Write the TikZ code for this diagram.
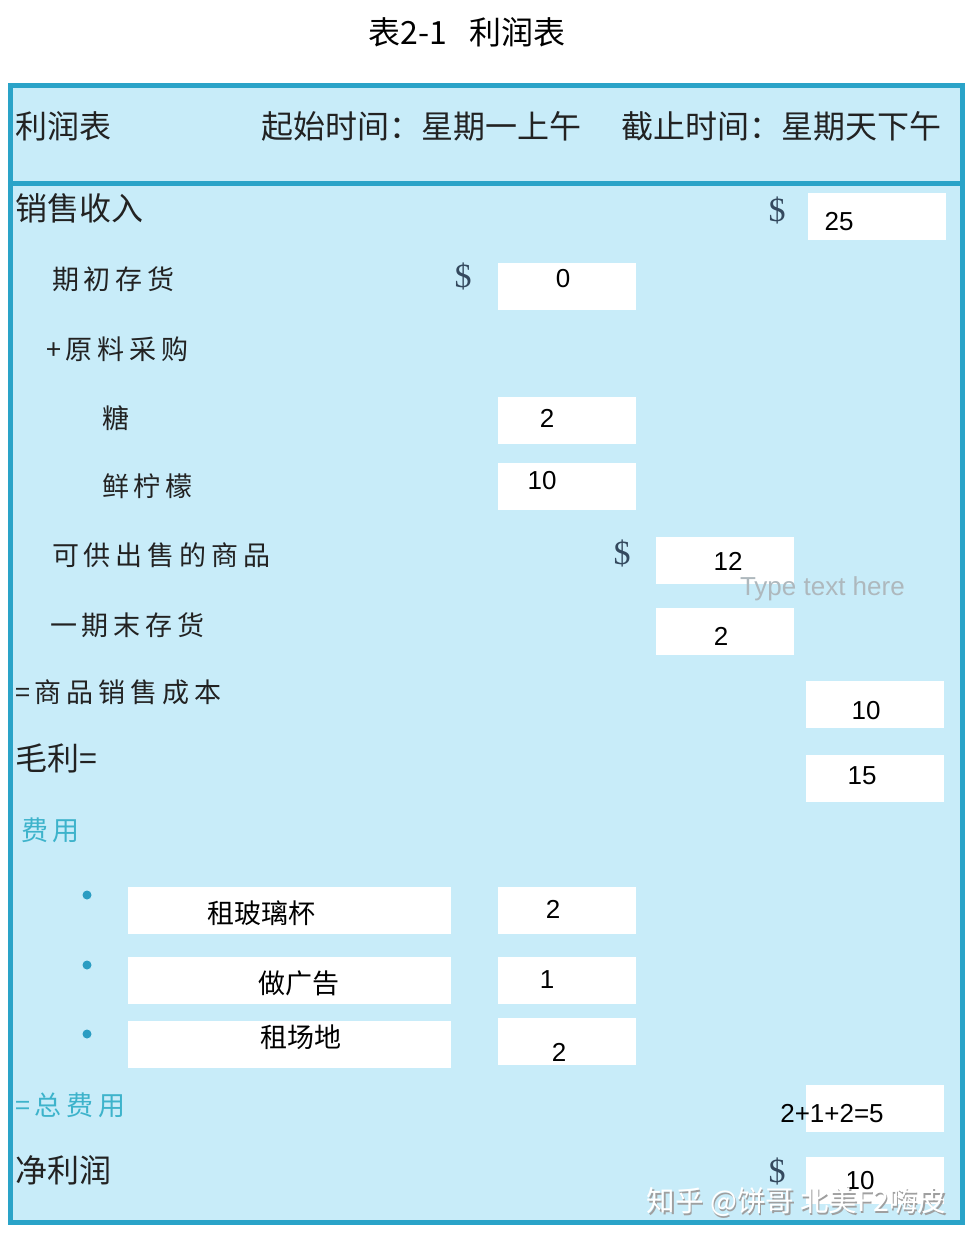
\documentclass[tikz,border=0pt]{standalone}
\usepackage{fontspec}
\setmainfont{Liberation Sans}
\newfontfamily\cjk{Noto Sans CJK SC}
\newfontfamily\hand[LetterSpace=18]{Noto Sans CJK SC}
\newfontfamily\dlr{Liberation Serif}
\definecolor{bg}{HTML}{C8ECF9}
\definecolor{frame}{HTML}{2AA3C8}
\definecolor{teal}{HTML}{3DB3CB}
\definecolor{dotc}{HTML}{2A9CC2}
\definecolor{ink}{HTML}{222222}
\definecolor{dink}{HTML}{34495E}
\definecolor{hint}{HTML}{AEB8BD}
\begin{document}
\begin{tikzpicture}[x=1pt,y=-1pt,
  every node/.style={inner sep=0pt, outer sep=0pt},
  big/.style={anchor=west, font=\cjk\fontsize{32}{36}\selectfont, text=ink},
  hw/.style={anchor=west, font=\hand\fontsize{27}{30}\selectfont, text=ink},
  hwteal/.style={anchor=west, font=\hand\fontsize{27}{30}\selectfont, text=teal},
  dol/.style={font=\dlr\fontsize{34}{38}\selectfont, text=dink},
  vbox/.style={anchor=north west, fill=white, minimum width=138, minimum height=47},
  lbox/.style={anchor=north west, fill=white, minimum width=323, minimum height=47},
  num/.style={font=\fontsize{26}{30}\selectfont, text=black},
  itemtxt/.style={font=\cjk\fontsize{27}{30}\selectfont, text=black},
  bul/.style={circle, fill=dotc, minimum size=9},
  wmark/.style={anchor=east, font=\cjk\fontsize{28.5}{32}\selectfont}
]
\useasboundingbox (0,0) rectangle (972,1242);
\fill[white] (0,0) rectangle (972,1242);
% title
\node[font=\cjk\fontsize{32}{36}\selectfont, text=black] (title) at (467,32) {表2-1\hspace{22pt}利润表};
% frame
\draw[line width=5, draw=frame, fill=bg] (10,85) rectangle (962,1222);
\coordinate (hl) at (10,183);
\coordinate (hr) at (962,183);
\draw[line width=5, frame] (hl) -- (hr);
% header
\node[big] (hdr) at (16,126) {利润表};
\node[big] (start) at (261,126) {起始时间：星期一上午};
\node[big] (end) at (621,126) {截止时间：星期天下午};
% revenue
\node[big] (rev) at (16,208) {销售收入};
\node[dol] (d1) at (777,210) {\$};
\node[vbox] (b1) at (808,193) {};
\node[num] (n1) at (839,222) {25};
% opening inventory
\node[hw] (open) at (52,279) {期初存货};
\node[dol] (d2) at (463,276) {\$};
\node[vbox] (b2) at (498,263) {};
\node[num] (n2) at (563,279) {0};
% purchases
\node[hw] (purch) at (46,349) {+原料采购};
\node[hw] (sugar) at (102,418) {糖};
\node[vbox] (b3) at (498,397) {};
\node[num] (n3) at (547,418) {2};
\node[hw] (lemon) at (102,486) {鲜柠檬};
\node[vbox] (b4) at (498,463) {};
\node[num] (n4) at (542,481) {10};
% available
\node[hw] (avail) at (52,555) {可供出售的商品};
\node[dol] (d3) at (622,553) {\$};
\node[vbox] (b5) at (656,537) {};
\node[num] (n5) at (728,561) {12};
\node[font=\fontsize{26}{30}\selectfont, text=hint, anchor=west] (hintt) at (740,589) {Type text here};
% ending inventory
\node[hw] (close) at (50,625) {一期末存货};
\node[vbox] (b6) at (656,608) {};
\node[num] (n6) at (721,636) {2};
% cogs
\node[hw] (cogs) at (15,692) {=商品销售成本};
\node[vbox] (b7) at (806,681) {};
\node[num] (n7) at (866,711) {10};
% gross
\node[big] (gross) at (16,758) {毛利=};
\node[vbox] (b8) at (806,755) {};
\node[num] (n8) at (862,776) {15};
% expenses
\node[hwteal] (exp) at (21,830) {费用};
\node[bul] (u1) at (87,895) {};
\node[bul] (u2) at (87,965) {};
\node[bul] (u3) at (87,1034) {};
\node[lbox] (l1) at (128,887) {};
\node[itemtxt] (t1) at (261,913) {租玻璃杯};
\node[lbox] (l2) at (128,957) {};
\node[itemtxt] (t2) at (299,983) {做广告};
\node[lbox] (l3) at (128,1021) {};
\node[itemtxt] (t3) at (301,1037) {租场地};
\node[vbox] (b9) at (498,887) {};
\node[num] (n9) at (553,909) {2};
\node[vbox] (b10) at (498,957) {};
\node[num] (n10) at (547,980) {1};
\node[vbox] (b11) at (498,1018) {};
\node[num] (n11) at (559,1052) {2};
% total expenses
\node[hwteal] (totexp) at (15,1105) {=总费用};
\node[vbox] (b12) at (806,1085) {};
\node[num] (n12) at (832,1114) {2+1+2=5};
% net
\node[big] (net) at (16,1170) {净利润};
\node[dol] (d4) at (777,1171) {\$};
\node[vbox] (b13) at (806,1157) {};
\node[num] (n13) at (860,1181) {10};
% watermark
\node[wmark, text=gray!75] (wms) at (947.5,1203.5) {知乎 @饼哥 北美F2嗨皮};
\node[wmark, text=white] (wm) at (946,1202) {知乎 @饼哥 北美F2嗨皮};
\end{tikzpicture}
\end{document}
